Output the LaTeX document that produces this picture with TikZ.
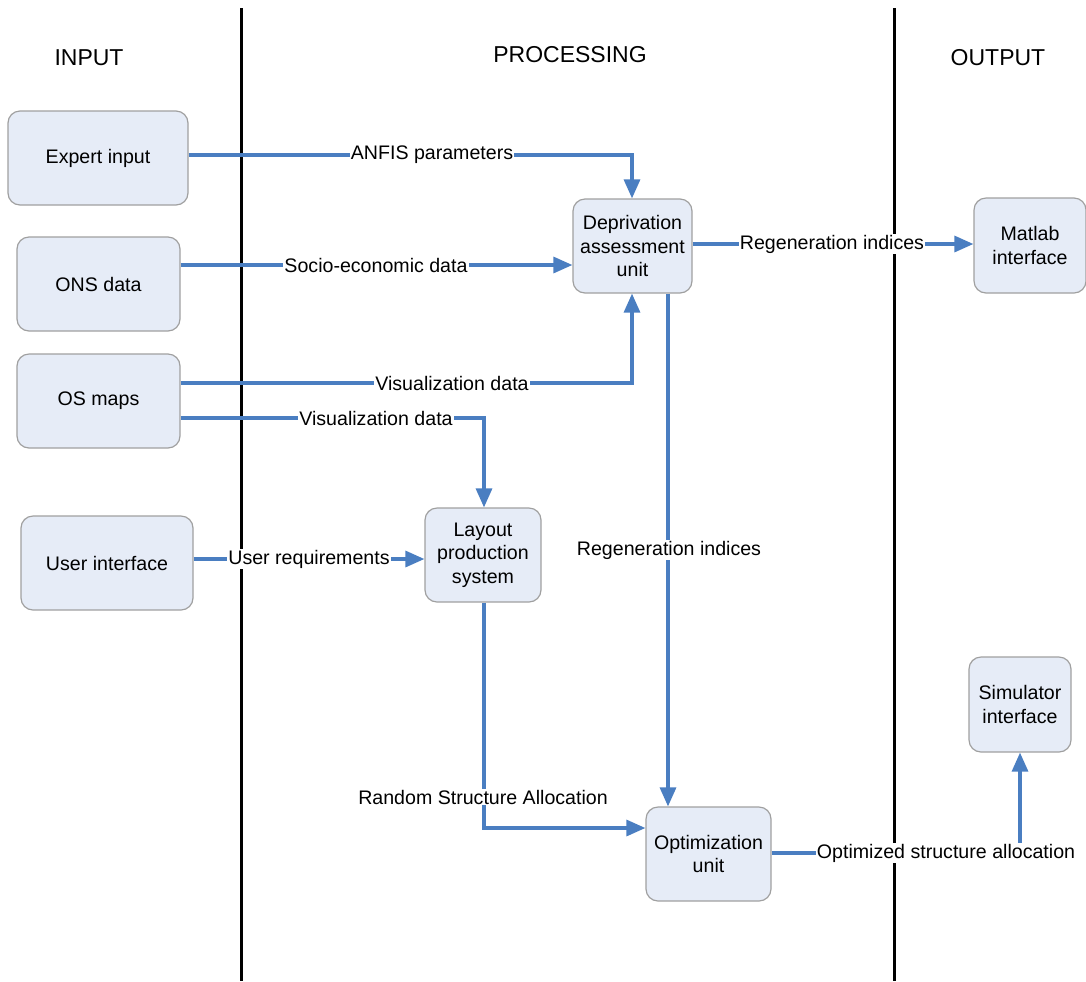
\documentclass[tikz,border=0pt]{standalone}
\usepackage{fontspec}
\setmainfont{Liberation Sans}
\usetikzlibrary{arrows.meta}
\definecolor{flow}{RGB}{74,126,193}
\definecolor{boxfill}{RGB}{230,236,247}
\definecolor{boxline}{RGB}{160,160,160}
\tikzset{
  box/.style={draw=boxline, fill=boxfill, rounded corners=6pt, line width=0.6pt, align=center, inner sep=0pt, font=\fontsize{9.8}{11.75}\selectfont},
  lbl/.style={fill=white, inner sep=0.6pt, font=\fontsize{9.8}{11.75}\selectfont},
  hdr/.style={font=\fontsize{11.5}{13}\selectfont},
  flowline/.style={draw=flow, line width=1.6pt},
  arr/.style={flowline, -{Triangle[width=8pt,length=9.5pt]}},
  sep/.style={line width=1.5pt, black}
}
\begin{document}
\begin{tikzpicture}[x=0.5pt, y=-0.5pt]
\useasboundingbox (0,0) rectangle (1086,981);
% separators
\coordinate (s1t) at (241,8); \coordinate (s1b) at (241,981);
\coordinate (s2t) at (894,8); \coordinate (s2b) at (894,981);
\draw[sep] (s1t) -- (s1b);
\draw[sep] (s2t) -- (s2b);
% headers
\node[hdr] (hin) at (89,58) {INPUT};
\node[hdr] (hproc) at (570,55) {PROCESSING};
\node[hdr] (hout) at (998,58) {OUTPUT};
% boxes
\node[box, minimum width=90pt, minimum height=47pt] (expert) at (98,158) {Expert input};
\node[box, minimum width=81.5pt, minimum height=47pt] (ons) at (98.5,284) {ONS data};
\node[box, minimum width=81.5pt, minimum height=47pt] (os) at (98.5,401) {OS maps};
\node[box, minimum width=86pt, minimum height=47pt] (ui) at (107,563) {User interface};
\node[box, minimum width=59.5pt, minimum height=47pt] (dep) at (632.5,246) {Deprivation\\assessment\\unit};
\node[box, minimum width=56pt, minimum height=47.5pt] (mat) at (1030,245.5) {Matlab\\interface};
\node[box, minimum width=58pt, minimum height=47pt] (lay) at (483,555) {Layout\\production\\system};
\node[box, minimum width=62.5pt, minimum height=47pt] (opt) at (708.5,854) {Optimization\\unit};
\node[box, minimum width=51pt, minimum height=47.5pt] (sim) at (1020,704.5) {Simulator\\interface};
% connectors
\draw[arr] (expert.east |- 0,155) -| (dep.north -| 632,0);
\node[lbl] (l1) at (432,155) {ANFIS parameters};
\draw[arr] (ons.east |- 0,265) -- (dep.west |- 0,265);
\node[lbl] (l2) at (376,265) {Socio-economic data};
\draw[arr] (os.east |- 0,383) -| (dep.south -| 632,0);
\node[lbl] (l3) at (452,383) {Visualization data};
\draw[arr] (os.east |- 0,418) -| (lay.north -| 484,0);
\node[lbl] (l4) at (376,418) {Visualization data};
\draw[arr] (ui.east |- 0,559) -- (lay.west |- 0,559);
\node[lbl] (l5) at (309,559) {User requirements};
\draw[arr] (dep.east |- 0,244) -- (mat.west |- 0,244);
\node[lbl] (l6) at (832,244) {Regeneration indices};
\draw[arr] (dep.south -| 668,0) -- (opt.north -| 668,0);
\node[lbl] (l7) at (669,550) {Regeneration indices};
\coordinate (rc) at (484,828);
\draw[arr] (lay.south -| 484,0) -- (rc) -- (opt.west |- 0,828);
\node[lbl] (l8) at (483,797) {Random Structure Allocation};
\draw[arr] (opt.east |- 0,853) -| (sim.south -| 1020,0);
\node[lbl] (l9) at (946,853) {Optimized structure allocation};
\end{tikzpicture}
\end{document}
